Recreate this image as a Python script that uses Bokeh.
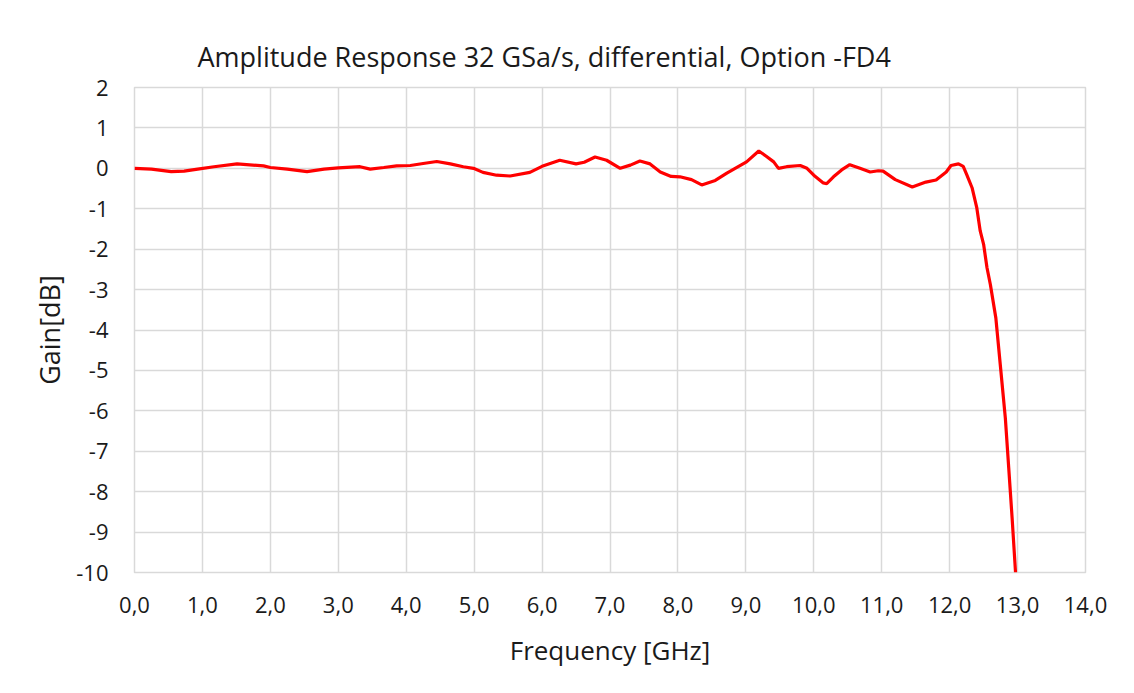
from bokeh.plotting import figure
from bokeh.models import Range1d, FixedTicker, Title
from bokeh.embed import file_html
from bokeh.resources import INLINE

freq = [0.0, 0.25, 0.54, 0.73, 0.93, 1.17, 1.51, 1.9, 2.0, 2.25,
        2.54, 2.79, 3.0, 3.32, 3.47, 3.67, 3.86, 4.06, 4.25, 4.45,
        4.65, 4.84, 4.99, 5.13, 5.33, 5.53, 5.82, 6.0, 6.26, 6.5,
        6.62, 6.78, 6.95, 7.15, 7.3, 7.44, 7.59, 7.74, 7.9, 8.03,
        8.2, 8.35, 8.55, 8.72, 9.01, 9.19, 9.3, 9.41, 9.48, 9.6,
        9.8, 9.9, 10.0, 10.14, 10.19, 10.29, 10.41, 10.53, 10.68, 10.83,
        10.95, 11.02, 11.2, 11.45, 11.65, 11.8, 11.95, 12.02, 12.13, 12.2,
        12.25, 12.33, 12.40, 12.45, 12.5, 12.55, 12.6, 12.68, 12.75, 12.82,
        12.87, 12.92, 12.97]
gain = [0.0, -0.02, -0.08, -0.07, -0.02, 0.04, 0.11, 0.06, 0.02, -0.02,
        -0.08, -0.02, 0.01, 0.04, -0.02, 0.02, 0.06, 0.07, 0.12, 0.17,
        0.11, 0.04, 0.0, -0.1, -0.17, -0.19, -0.1, 0.05, 0.2, 0.11,
        0.15, 0.28, 0.2, 0.0, 0.08, 0.18, 0.11, -0.09, -0.2, -0.21,
        -0.28, -0.41, -0.3, -0.12, 0.16, 0.43, 0.3, 0.16, 0.0, 0.04,
        0.07, 0.0, -0.17, -0.36, -0.38, -0.21, -0.04, 0.09, 0.0, -0.09,
        -0.06, -0.07, -0.28, -0.46, -0.34, -0.29, -0.09, 0.07, 0.11, 0.05,
        -0.15, -0.48, -0.98, -1.55, -1.88, -2.46, -2.88, -3.7, -4.94, -6.18,
        -7.42, -8.66, -10.0]

x_ticks = list(range(0, 15))
x_tick_labels = ["%d,0" % t for t in x_ticks]
y_ticks = list(range(-10, 3))
y_tick_labels = [str(t) for t in y_ticks]

title_text = "Amplitude Response 32 GSa/s, differential, Option -FD4"
x_label = "Frequency [GHz]"
y_label = "Gain[dB]"

FONT = "Open Sans"
TXT = "#1a1a1a"
GRID = "#d9d9d9"

p = figure(width=1118, height=677, output_backend="svg", toolbar_location=None,
           x_range=Range1d(0, 14), y_range=Range1d(-10, 2),
           min_border_left=134, min_border_right=33, min_border_top=87, min_border_bottom=105)
p.title = Title(text=title_text, align="left", offset=63, text_font=FONT,
                text_font_size="27px", text_font_style="normal", text_color=TXT, standoff=25)

p.line(freq, gain, line_color="#ff0000", line_width=3.2)

p.outline_line_color = GRID
p.outline_line_width = 1.5
p.xgrid.grid_line_color = GRID
p.ygrid.grid_line_color = GRID
p.xgrid.grid_line_width = 1.5
p.ygrid.grid_line_width = 1.5

p.xaxis.ticker = FixedTicker(ticks=x_ticks)
p.yaxis.ticker = FixedTicker(ticks=y_ticks)
p.xaxis.major_label_overrides = {t: l for t, l in zip(x_ticks, x_tick_labels)}
p.yaxis.major_label_overrides = {t: l for t, l in zip(y_ticks, y_tick_labels)}

for ax in (p.xaxis, p.yaxis):
    ax.axis_line_color = None
    ax.major_tick_line_color = None
    ax.minor_tick_line_color = None
    ax.major_label_text_font = FONT
    ax.major_label_text_font_size = "22px"
    ax.major_label_text_color = TXT
    ax.axis_label_text_font = FONT
    ax.axis_label_text_font_style = "normal"
    ax.axis_label_text_color = TXT

p.xaxis.axis_label_text_font_size = "26px"
p.yaxis.axis_label_text_font_size = "27px"
p.xaxis.axis_label = x_label
p.yaxis.axis_label = y_label
p.xaxis.major_label_standoff = 18
p.yaxis.major_label_standoff = 20
p.xaxis.axis_label_standoff = 16
p.yaxis.axis_label_standoff = 5

open("out.html", "w").write(file_html(p, INLINE))
